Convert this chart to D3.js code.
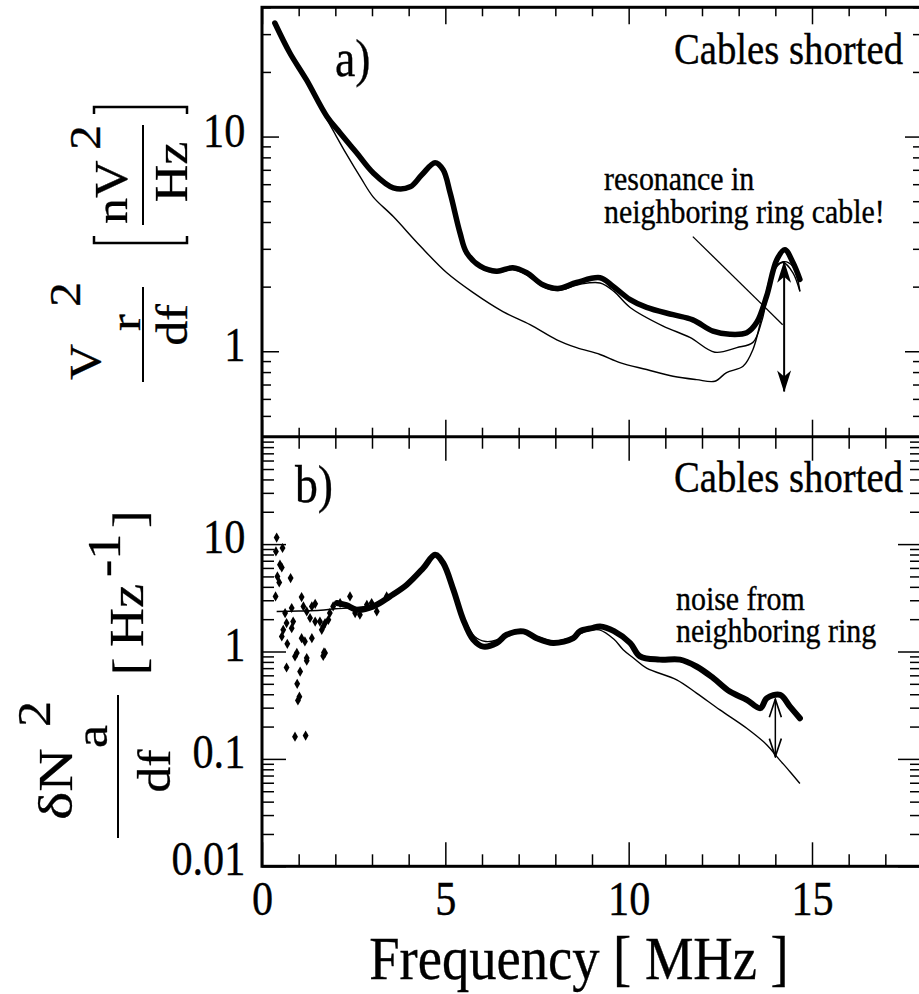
<!DOCTYPE html>
<html>
<head>
<meta charset="utf-8">
<script src="https://cdn.jsdelivr.net/npm/d3@7"></script>
<style>
  body { margin: 0; background: #fff; }
  text { font-family: "Liberation Serif", "Times New Roman", serif; fill: #000; stroke: #000; stroke-width: 0.35px; }
</style>
</head>
<body>
<script>
// panel a) : measured noise (thick), ring cable removed (mid), lowest trace
var measFreq = [0.35, 0.76, 1.21, 1.77, 2.13, 2.58, 3.03, 3.58, 4.04, 4.36, 4.72, 4.94, 5.13, 5.40, 5.58, 5.95, 6.40, 6.84, 7.22, 7.66, 8.07, 8.58, 9.22, 9.57, 10.04, 10.49, 11.21, 11.75, 12.30, 12.76, 13.22, 13.49, 13.76, 14.04, 14.26, 14.48, 14.67];
var measV    = [33.8, 24.5, 18.4, 12.4, 10.4, 8.4, 6.78, 5.77, 5.83, 6.64, 7.55, 7.0, 5.47, 3.56, 2.88, 2.49, 2.36, 2.45, 2.32, 2.04, 1.96, 2.09, 2.20, 2.01, 1.74, 1.60, 1.48, 1.40, 1.24, 1.20, 1.22, 1.36, 1.80, 2.67, 2.97, 2.59, 2.16];

var midFreq = [0.35, 0.76, 1.21, 1.77, 2.13, 2.58, 3.03, 3.58, 4.04, 4.36, 4.72, 4.94, 5.13, 5.40, 5.58, 5.95, 6.40, 6.84, 7.22, 7.66, 8.07, 8.67, 9.22, 9.60, 10.04, 10.94, 11.67, 12.35, 12.95, 13.39, 13.64, 13.94, 14.21, 14.48, 14.67];
var midV    = [33.8, 24.5, 18.4, 12.4, 10.4, 8.4, 6.78, 5.77, 5.83, 6.64, 7.55, 7.0, 5.47, 3.56, 2.88, 2.45, 2.32, 2.40, 2.27, 2.00, 1.92, 2.05, 2.08, 1.90, 1.60, 1.31, 1.16, 0.99, 1.04, 1.10, 1.40, 2.32, 2.61, 2.48, 1.90];

var lowFreq = [0.35, 0.76, 1.21, 1.60, 1.95, 2.30, 2.70, 3.03, 3.58, 4.31, 5.04, 5.75, 6.57, 7.31, 8.04, 8.58, 9.22, 9.76, 10.49, 11.21, 11.85, 12.35, 12.67, 13.12, 13.39, 13.63, 13.94, 14.21, 14.48, 14.67];
var lowV    = [33.8, 24.5, 18.4, 13.6, 10.6, 8.3, 6.4, 5.24, 4.24, 3.10, 2.32, 1.88, 1.53, 1.33, 1.13, 1.04, 0.966, 0.886, 0.822, 0.765, 0.738, 0.725, 0.796, 0.851, 1.02, 1.45, 2.40, 2.59, 2.32, 1.90];

// panel b) : fit line, dense data band, scattered low-frequency points
var fitFreq = [0.4, 1.0, 1.6, 2.0, 2.5, 3.0, 3.5, 4.0, 4.4, 4.72, 4.95, 5.2, 5.5, 5.8, 6.1, 6.4, 6.7, 7.1, 7.5, 8.0, 8.5, 8.9, 9.2, 9.6, 9.85, 10.13, 10.49, 11.31, 11.85, 12.49, 13.22, 13.77, 14.04, 14.40, 14.67];
var fitV    = [2.36, 2.38, 2.42, 2.5, 2.55, 2.7, 3.2, 4.15, 5.9, 7.8, 6.8, 3.9, 2.1, 1.38, 1.24, 1.28, 1.45, 1.55, 1.38, 1.25, 1.38, 1.57, 1.59, 1.30, 1.04, 0.87, 0.70, 0.545, 0.41, 0.286, 0.193, 0.135, 0.105, 0.076, 0.059];

var bandFreq = [2.04, 2.3, 2.58, 3.04, 3.49, 3.95, 4.40, 4.72, 4.94, 5.22, 5.49, 5.76, 6.04, 6.40, 6.67, 7.13, 7.49, 7.94, 8.49, 8.67, 9.0, 9.22, 9.6, 10.04, 10.31, 10.85, 11.40, 11.85, 12.31, 12.76, 13.22, 13.59, 13.77, 14.13, 14.40, 14.67];
var bandV    = [2.83, 2.7, 2.45, 2.63, 3.26, 4.19, 5.99, 7.96, 6.67, 3.76, 1.97, 1.29, 1.11, 1.20, 1.43, 1.54, 1.33, 1.20, 1.33, 1.54, 1.65, 1.71, 1.55, 1.20, 0.90, 0.84, 0.84, 0.725, 0.565, 0.424, 0.355, 0.297, 0.368, 0.395, 0.307, 0.239];

var scatFreq = [0.40, 0.56, 0.38, 0.49, 0.54, 0.42, 0.47, 0.78, 0.37, 0.63, 0.81, 0.67, 0.85, 0.58, 0.81, 0.54, 0.69, 0.95, 1.08, 1.13, 1.22, 1.36, 1.45, 1.08, 1.17, 1.36, 1.31, 1.45, 1.58, 1.67, 1.63, 1.72, 1.81, 1.85, 1.94, 1.72, 1.22, 0.90, 1.22, 1.69, 1.67, 0.67, 1.04, 0.96, 1.02, 0.98, 0.90, 1.19, 2.13, 2.40, 2.54, 2.67, 2.86, 2.99, 3.13, 3.40];
var scatV    = [11.5, 9.2, 8.55, 6.43, 6.07, 5.0, 4.40, 4.83, 3.26, 2.28, 2.54, 1.84, 1.90, 1.59, 1.65, 1.38, 1.18, 0.97, 3.21, 2.63, 2.36, 2.63, 2.78, 1.33, 1.24, 1.33, 2.05, 1.90, 1.90, 1.71, 1.59, 1.84, 1.97, 2.28, 2.63, 0.97, 0.87, 0.90, 0.82, 0.98, 0.91, 0.71, 0.65, 0.50, 0.38, 0.35, 0.161, 0.165, 2.83, 3.26, 2.28, 2.20, 2.72, 2.83, 2.36, 3.26];

// annotation arrows / leader, [freq, value]
var arrowA  = [[14.24, 2.61], [14.24, 0.65]];
var leaderA = [[11.75, 3.42], [14.20, 1.33]];
var arrowB  = [[14.00, 0.36], [14.00, 0.105]];

var xTicks = [0, 5, 10, 15];
var xMinor = [1, 2, 3, 4, 6, 7, 8, 9, 11, 12, 13, 14, 16, 17];
var topTicks = [1, 10];
var topMinor = [0.4, 0.5, 0.6, 0.7, 0.8, 0.9, 2, 3, 4, 5, 6, 7, 8, 9, 20, 30, 40];
var botTicks = [0.01, 0.1, 1, 10, 100];
var botMinor = [];
[0.01, 0.1, 1, 10].forEach(function(d) { for (var k = 2; k <= 9; k++) botMinor.push(d * k); });

var W = 919, H = 994;
var pxLeft = 262, pxRight = 922, pxTop = 7.3, pxMid = 436.7, pxBottom = 866.3;

var x = d3.scaleLinear().domain([0, 18]).range([pxLeft, pxRight]);
var yTop = d3.scaleLog().domain([0.4, 40]).range([pxMid, pxTop]);
var yBot = d3.scaleLog().domain([0.01, 100]).range([pxBottom, pxMid]);

var svg = d3.select('body').append('svg')
    .attr('width', W)
    .attr('height', H);

var defs = svg.append('defs');
defs.append('marker')
    .attr('id', 'headFill')
    .attr('viewBox', '0 0 22 14')
    .attr('refX', 21).attr('refY', 7)
    .attr('markerWidth', 22).attr('markerHeight', 14)
    .attr('markerUnits', 'userSpaceOnUse')
    .attr('orient', 'auto-start-reverse')
    .append('path')
    .attr('d', 'M0,0 L22,7 L0,14 L6,7 Z');
defs.append('marker')
    .attr('id', 'headOpen')
    .attr('viewBox', '0 0 20 14')
    .attr('refX', 19).attr('refY', 7)
    .attr('markerWidth', 20).attr('markerHeight', 14)
    .attr('markerUnits', 'userSpaceOnUse')
    .attr('orient', 'auto-start-reverse')
    .append('path')
    .attr('d', 'M1,1 L19,7 L1,13')
    .attr('fill', 'none')
    .attr('stroke', '#000')
    .attr('stroke-width', 1.6);

// ---- ticks
function ticks(axis, tx, ty, size, vals, labels) {
    var g = svg.append('g')
        .attr('transform', 'translate(' + tx + ',' + ty + ')')
        .call(axis.tickValues(vals).tickSizeInner(-size).tickSizeOuter(0));
    g.select('.domain').remove();
    g.selectAll('line').attr('stroke', '#000').attr('stroke-width', 1.5);
    g.selectAll('text').attr('font-size', 48).attr('font-family', null);
    if (!labels) g.selectAll('text').remove();
    return g;
}

ticks(d3.axisTop(x), 0, pxTop, 17, xTicks);
ticks(d3.axisTop(x), 0, pxTop, 9, xMinor);
ticks(d3.axisBottom(x), 0, pxMid, 17, xTicks);
ticks(d3.axisBottom(x), 0, pxMid, 9, xMinor);
ticks(d3.axisTop(x), 0, pxMid, 24, xTicks);
ticks(d3.axisTop(x), 0, pxMid, 12, xMinor);
var xb = ticks(d3.axisBottom(x).tickPadding(15), 0, pxBottom, 24, xTicks, true);
ticks(d3.axisBottom(x), 0, pxBottom, 12, xMinor);
xb.selectAll('text').attr('transform', 'scale(0.88,1)');

var yl = ticks(d3.axisLeft(yTop).tickPadding(19).tickFormat(d3.format('~g')), pxLeft, 0, 17, topTicks, true);
ticks(d3.axisLeft(yTop), pxLeft, 0, 9, topMinor);
ticks(d3.axisRight(yTop), pxRight, 0, 17, topTicks);
ticks(d3.axisRight(yTop), pxRight, 0, 9, topMinor);
yl.selectAll('text').attr('dy', '0.2em').attr('transform', 'scale(0.88,1)');

var yl2 = ticks(d3.axisLeft(yBot).tickPadding(19).tickFormat(function(d) { return d === 100 ? '' : d3.format('~g')(d); }), pxLeft, 0, 24, botTicks, true);
ticks(d3.axisLeft(yBot), pxLeft, 0, 12, botMinor);
ticks(d3.axisRight(yBot), pxRight, 0, 24, botTicks);
ticks(d3.axisRight(yBot), pxRight, 0, 12, botMinor);
yl2.selectAll('text').attr('dy', '0.18em').attr('transform', 'scale(0.88,1)');

// ---- frames
svg.append('rect')
    .attr('x', pxLeft).attr('y', pxTop)
    .attr('width', pxRight - pxLeft).attr('height', pxBottom - pxTop)
    .attr('fill', 'none').attr('stroke', '#000').attr('stroke-width', 3);
svg.append('line')
    .attr('x1', pxLeft).attr('x2', pxRight)
    .attr('y1', pxMid).attr('y2', pxMid)
    .attr('stroke', '#000').attr('stroke-width', 3);

// ---- panel a curves
function lineOf(ys) {
    return d3.line()
        .x(function(d) { return x(d[0]); })
        .y(function(d) { return ys(d[1]); })
        .curve(d3.curveCatmullRom.alpha(0.5));
}
var lineA = lineOf(yTop), lineB = lineOf(yBot);

svg.append('path').datum(d3.zip(lowFreq, lowV))
    .attr('d', lineA).attr('fill', 'none').attr('stroke', '#000').attr('stroke-width', 1.4);
svg.append('path').datum(d3.zip(midFreq, midV))
    .attr('d', lineA).attr('fill', 'none').attr('stroke', '#000').attr('stroke-width', 1.4);
svg.append('path').datum(d3.zip(measFreq, measV))
    .attr('d', lineA).attr('fill', 'none').attr('stroke', '#000').attr('stroke-width', 5.5)
    .attr('stroke-linejoin', 'round').attr('stroke-linecap', 'round');

svg.append('path').datum(leaderA)
    .attr('d', d3.line().x(function(d) { return x(d[0]); }).y(function(d) { return yTop(d[1]); }))
    .attr('stroke', '#000').attr('stroke-width', 1.3);
svg.append('path').datum(arrowA)
    .attr('d', d3.line().x(function(d) { return x(d[0]); }).y(function(d) { return yTop(d[1]); }))
    .attr('stroke', '#000').attr('stroke-width', 2)
    .attr('marker-start', 'url(#headFill)').attr('marker-end', 'url(#headFill)');

// ---- panel b
svg.append('path').datum(d3.zip(fitFreq, fitV))
    .attr('d', lineB).attr('fill', 'none').attr('stroke', '#000').attr('stroke-width', 1.4);
svg.append('path').datum(d3.zip(bandFreq, bandV))
    .attr('d', lineB).attr('fill', 'none').attr('stroke', '#000').attr('stroke-width', 6)
    .attr('stroke-linejoin', 'round').attr('stroke-linecap', 'round');
svg.append('g').selectAll('path')
    .data(d3.zip(scatFreq, scatV))
    .enter().append('path')
    .attr('transform', function(d) { return 'translate(' + x(d[0]) + ',' + yBot(d[1]) + ')'; })
    .attr('d', d3.symbol(d3.symbolDiamond).size(30));

svg.append('path').datum(arrowB)
    .attr('d', d3.line().x(function(d) { return x(d[0]); }).y(function(d) { return yBot(d[1]); }))
    .attr('stroke', '#000').attr('stroke-width', 1.5)
    .attr('marker-start', 'url(#headOpen)').attr('marker-end', 'url(#headOpen)');

// ---- texts
function txt(str, tx, ty, size, anchor) {
    return svg.append('text')
        .attr('transform', 'translate(' + tx + ',' + ty + ') scale(0.88,1)')
        .attr('font-size', size)
        .attr('text-anchor', anchor || 'start')
        .text(str);
}
function rtxt(str, bx, sy, size, anchor, sq) {
    return svg.append('text')
        .attr('transform', 'translate(' + bx + ',' + sy + ') scale(' + (sq || 0.88) + ',1) rotate(-90)')
        .attr('font-size', size)
        .attr('text-anchor', anchor || 'start')
        .text(str);
}

txt('a)', 335, 76, 52);
txt('b)', 295, 502, 52);
txt('Cables shorted', 903, 64, 44, 'end');
txt('Cables shorted', 903, 492, 44, 'end');
txt('resonance in', 604, 190, 34);
txt('neighboring ring cable!', 604, 223, 34);
txt('noise from', 676, 610, 34);
txt('neighboring ring', 676, 642, 34);
txt('Frequency [ MHz ]', 579, 979, 62, 'middle');

// y label, panel a
rtxt('V', 100, 380, 50);
rtxt('r', 140, 331, 50);
rtxt('2', 80, 307, 50);
rtxt('df', 187, 325, 50, 'middle');
rtxt('nV', 127, 224, 52);
rtxt('2', 100, 150, 50);
rtxt('Hz', 187, 172, 52, 'middle');
svg.append('line').attr('x1', 143).attr('x2', 143).attr('y1', 287).attr('y2', 382)
    .attr('stroke', '#000').attr('stroke-width', 2);
svg.append('line').attr('x1', 143).attr('x2', 143).attr('y1', 125).attr('y2', 225)
    .attr('stroke', '#000').attr('stroke-width', 2);
svg.append('path')
    .attr('d', 'M94,236 L94,243 L187,243 L187,236 M94,114 L94,107 L187,107 L187,114')
    .attr('fill', 'none').attr('stroke', '#000').attr('stroke-width', 2.5);

// y label, panel b
rtxt('\u03B4N', 72, 820, 60, 'start', 0.8);
rtxt('a', 107, 748, 52);
rtxt('2', 50, 727, 52);
rtxt('df', 170, 771, 52, 'middle');
rtxt('[', 145, 675, 52);
rtxt('Hz', 143, 647, 54);
rtxt('-1', 120, 577, 52);
rtxt(']', 145, 528, 52);
svg.append('line').attr('x1', 118).attr('x2', 118).attr('y1', 695).attr('y2', 838)
    .attr('stroke', '#000').attr('stroke-width', 2);
</script>
</body>
</html>
